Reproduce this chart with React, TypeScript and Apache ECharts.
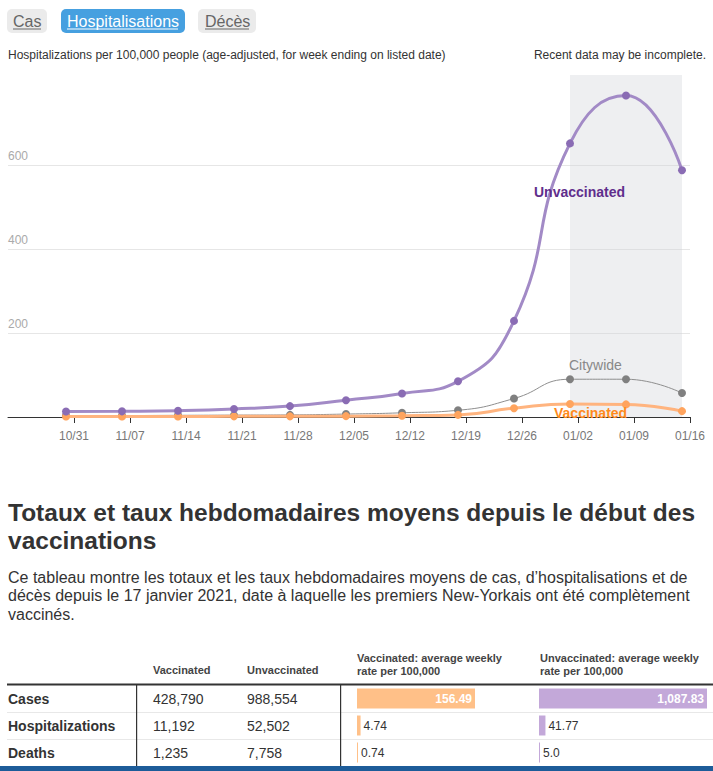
import React, { useEffect, useRef } from 'react';
import * as echarts from 'echarts';

// ---------- data ----------
const weekEnding = ['10/30', '11/06', '11/13', '11/20', '11/27', '12/04', '12/11', '12/18', '12/25', '01/01', '01/08', '01/15'];
const unvaccinated = [13, 13.5, 15, 19, 26, 40, 56, 85, 229, 652, 766, 588];
const citywide = [3.5, 3.5, 4, 4.5, 5, 7, 10, 16, 44, 90, 90, 57];
const vaccinated = [1, 1, 1, 1.5, 1.5, 2, 3, 5, 21, 31, 30, 14];
const xTickLabels = ['10/31', '11/07', '11/14', '11/21', '11/28', '12/05', '12/12', '12/19', '12/26', '01/02', '01/09', '01/16'];
const yTickValues = [200, 400, 600];
const incompleteFrom = '01/01';
const incompleteTo = '01/15';

const tableRows = ['Cases', 'Hospitalizations', 'Deaths'];
const vaccinatedTotals = [428790, 11192, 1235];
const unvaccinatedTotals = [988554, 52502, 7758];
const vaccinatedRates = [156.49, 4.74, 0.74];
const unvaccinatedRates = [1087.83, 41.77, 5.0];
const vaccinatedRateLabels = ['156.49', '4.74', '0.74'];
const unvaccinatedRateLabels = ['1,087.83', '41.77', '5.0'];

const FONT = '"Liberation Sans", Arial, sans-serif';

// day number (days since 2021-10-31) for an mm/dd label
function toDay(lbl: string): number {
  const [m, d] = lbl.split('/').map(Number);
  const y = m >= 10 ? 2021 : 2022;
  const t = Date.UTC(y, m - 1, d);
  return Math.round((t - Date.UTC(2021, 9, 31)) / 86400000);
}
function dayLabel(day: number): string {
  const t = new Date(Date.UTC(2021, 9, 31) + Math.round(day) * 86400000);
  const m = t.getUTCMonth() + 1;
  const d = t.getUTCDate();
  return (m < 10 ? '0' + m : '' + m) + '/' + (d < 10 ? '0' + d : '' + d);
}

export default function App() {
  const ref = useRef<HTMLDivElement>(null);
  useEffect(() => {
    if (!ref.current) return;
    const chart = echarts.init(ref.current, undefined, { renderer: 'svg' });
    const weekDays = weekEnding.map(toDay);
    const tickDays = xTickLabels.map(toDay);

    const txt = (x: number, y: number, text: string, o: any = {}) => ({
      type: 'text',
      x,
      y,
      z: 100,
      style: {
        text,
        fontFamily: FONT,
        fontSize: o.fontSize || 14,
        fontWeight: o.fontWeight || 'normal',
        fill: o.fill || '#333',
        align: o.align || 'left',
        verticalAlign: 'middle',
      },
    });
    const rect = (x: number, y: number, w: number, h: number, fill: string, r = 0) => ({
      type: 'rect',
      shape: { x, y, width: w, height: h, r },
      style: { fill },
      z: 50,
    });

    const rowY = [699, 726, 753];
    const graphics: any[] = [
      rect(7, 9, 40, 24, '#ebebeb', 5),
      rect(61, 9, 124, 24, '#46a0e0', 5),
      rect(198, 9, 58, 24, '#ebebeb', 5),
      txt(13, 21, 'Cas', { fontSize: 16, fill: '#666' }),
      rect(13, 28.5, 28, 1, '#666'),
      txt(67, 21, 'Hospitalisations', { fontSize: 16, fill: '#fff' }),
      rect(67, 28.5, 111, 1, '#fff'),
      txt(205, 21, 'Décès', { fontSize: 16, fill: '#666' }),
      rect(205, 28.5, 44, 1, '#666'),
      txt(8, 55, 'Hospitalizations per 100,000 people (age-adjusted, for week ending on listed date)', { fontSize: 12 }),
      txt(706, 55, 'Recent data may be incomplete.', { fontSize: 12, align: 'right' }),
      txt(534, 192, 'Unvaccinated', { fontSize: 14, fontWeight: 'bold', fill: '#5f2e8c' }),
      txt(569, 365, 'Citywide', { fontSize: 14, fill: '#888' }),
      txt(554, 412.5, 'Vaccinated', { fontSize: 14, fontWeight: 'bold', fill: '#ff8a1c' }),
      txt(8, 512, 'Totaux et taux hebdomadaires moyens depuis le début des', { fontSize: 24.5, fontWeight: 'bold', fill: '#333' }),
      txt(8, 540, 'vaccinations', { fontSize: 24.5, fontWeight: 'bold', fill: '#333' }),
      txt(8, 577, 'Ce tableau montre les totaux et les taux hebdomadaires moyens de cas, d’hospitalisations et de', { fontSize: 16 }),
      txt(8, 595.5, 'décès depuis le 17 janvier 2021, date à laquelle les premiers New-Yorkais ont été complètement', { fontSize: 16 }),
      txt(8, 614, 'vaccinés.', { fontSize: 16 }),
      txt(153, 670, 'Vaccinated', { fontSize: 11, fontWeight: 'bold', fill: '#444' }),
      txt(247, 670, 'Unvaccinated', { fontSize: 11, fontWeight: 'bold', fill: '#444' }),
      txt(357, 658, 'Vaccinated: average weekly', { fontSize: 11, fontWeight: 'bold', fill: '#444' }),
      txt(357, 671, 'rate per 100,000', { fontSize: 11, fontWeight: 'bold', fill: '#444' }),
      txt(540, 658, 'Unvaccinated: average weekly', { fontSize: 11, fontWeight: 'bold', fill: '#444' }),
      txt(540, 671, 'rate per 100,000', { fontSize: 11, fontWeight: 'bold', fill: '#444' }),
      rect(7, 683.5, 706, 2, '#333'),
      rect(7, 712, 706, 1, '#e8e8e8'),
      rect(7, 739, 706, 1, '#e8e8e8'),
      rect(136, 684, 1.2, 82, '#333'),
      rect(340, 684, 1.2, 82, '#333'),
      rect(0, 766, 713, 5, '#1d5c99'),
    ];
    tableRows.forEach((r, i) => {
      graphics.push(txt(8, rowY[i], r, { fontSize: 14, fontWeight: 'bold', fill: '#333' }));
      graphics.push(txt(153, rowY[i], vaccinatedTotals[i].toLocaleString('en-US'), { fontSize: 14, fill: '#333' }));
      graphics.push(txt(247, rowY[i], unvaccinatedTotals[i].toLocaleString('en-US'), { fontSize: 14, fill: '#333' }));
    });

    const barData = (vals: number[], labels: string[]) =>
      vals.map((v, i) => ({
        value: v,
        label:
          i === 0
            ? { show: true, position: 'insideRight', distance: 3, color: '#fff', fontWeight: 'bold', fontSize: 12, fontFamily: FONT, formatter: labels[i] }
            : { show: true, position: 'right', distance: 3, color: '#333', fontSize: 12, fontFamily: FONT, formatter: labels[i] },
      }));

    const lineSeries = (name: string, vals: number[], lineColor: string, dotColor: string, width: number, z: number) => ({
      type: 'line',
      name,
      xAxisIndex: 0,
      yAxisIndex: 0,
      data: weekDays.map((t, i) => [t, vals[i]]),
      smooth: 0.5,
      symbol: 'circle',
      symbolSize: 8,
      showSymbol: true,
      lineStyle: { color: lineColor, width },
      itemStyle: { color: dotColor },
      z,
    });

    const citySeries: any = lineSeries('Citywide', citywide, '#8e8e8e', '#808080', 1, 3);
    citySeries.markArea = {
      silent: true,
      itemStyle: { color: 'rgba(205,208,214,0.35)' },
      data: [[{ xAxis: toDay(incompleteFrom) }, { xAxis: toDay(incompleteTo) }]],
    };

    chart.setOption({
      animation: false,
      textStyle: { fontFamily: FONT },
      graphic: graphics,
      grid: [
        { left: 8, right: 23, top: 75, height: 342 },
        { left: 357, top: 685, width: 118, height: 81 },
        { left: 539, top: 685, width: 168, height: 81 },
      ],
      xAxis: [
        {
          type: 'value',
          gridIndex: 0,
          min: tickDays[0] - 8.25,
          max: tickDays[tickDays.length - 1],
          axisLine: { show: true, onZero: false, lineStyle: { color: '#333', width: 1 } },
          axisTick: { show: true, customValues: tickDays, length: 6, lineStyle: { color: '#333' } },
          axisLabel: {
            customValues: tickDays,
            color: '#777',
            fontSize: 12,
            margin: 13,
            hideOverlap: false,
            showMinLabel: true,
            showMaxLabel: true,
            formatter: (v: number) => dayLabel(v),
          },
          splitLine: { show: false },
        },
        { type: 'value', gridIndex: 1, min: 0, max: vaccinatedRates[0], show: false },
        { type: 'value', gridIndex: 2, min: 0, max: unvaccinatedRates[0], show: false },
      ],
      yAxis: [
        {
          type: 'value',
          gridIndex: 0,
          min: 0,
          max: 815,
          axisLine: { show: false },
          axisTick: { show: false, customValues: yTickValues },
          axisLabel: {
            customValues: yTickValues,
            inside: true,
            margin: 0,
            color: '#aaa',
            fontSize: 12,
            verticalAlign: 'bottom',
            padding: [0, 0, 3, 0],
          },
          splitLine: { show: true, lineStyle: { color: '#e6e6e6' } },
        },
        { type: 'category', gridIndex: 1, data: tableRows, inverse: true, show: false },
        { type: 'category', gridIndex: 2, data: tableRows, inverse: true, show: false },
      ],
      series: [
        lineSeries('Vaccinated', vaccinated, '#ffb47f', '#ffa45e', 3, 4),
        citySeries,
        lineSeries('Unvaccinated', unvaccinated, '#a28ac6', '#8a6cb4', 3, 5),
        {
          type: 'bar',
          xAxisIndex: 1,
          yAxisIndex: 1,
          barWidth: 20,
          barMinHeight: 1,
          itemStyle: { color: '#ffc088' },
          data: barData(vaccinatedRates, vaccinatedRateLabels),
        },
        {
          type: 'bar',
          xAxisIndex: 2,
          yAxisIndex: 2,
          barWidth: 20,
          barMinHeight: 1,
          itemStyle: { color: '#c3a8d9' },
          data: barData(unvaccinatedRates, unvaccinatedRateLabels),
        },
      ],
    });
    return () => chart.dispose();
  }, []);
  return <div ref={ref} style={{ position: 'fixed', left: 0, top: 0, width: 713, height: 771, background: '#fff' }} />;
}
